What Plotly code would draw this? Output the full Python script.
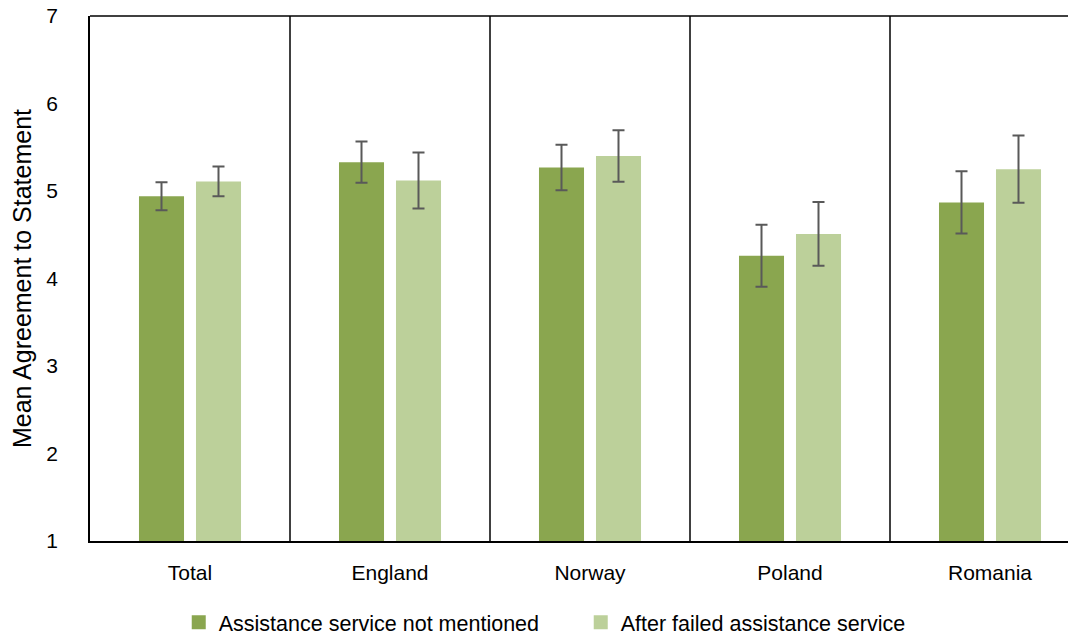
import plotly.graph_objects as go

categories = ["Total", "England", "Norway", "Poland", "Romania"]
not_mentioned = [4.94, 5.33, 5.27, 4.26, 4.87]
not_mentioned_err = [0.16, 0.235, 0.26, 0.355, 0.355]
after_failed = [5.11, 5.12, 5.40, 4.51, 5.25]
after_failed_err = [0.17, 0.32, 0.295, 0.365, 0.385]
series_names = ["Assistance service not mentioned", "After failed assistance service"]
colors = ["#8aa64f", "#bcd09a"]
y_ticks = [1, 2, 3, 4, 5, 6, 7]

FONT = "Liberation Sans"
err_style = dict(type="data", visible=True, color="#595959", thickness=2, width=6)

fig = go.Figure()
for vals, errs, name, col in [(not_mentioned, not_mentioned_err, series_names[0], colors[0]),
                              (after_failed, after_failed_err, series_names[1], colors[1])]:
    fig.add_trace(go.Bar(
        x=categories, y=vals, name=name, showlegend=False,
        marker=dict(color=col, line=dict(width=0)),
        error_y=dict(array=errs, **err_style),
    ))
# legend entries with square swatches
for name, col in zip(series_names, colors):
    fig.add_trace(go.Scatter(
        x=[None], y=[None], mode="markers", name=name,
        marker=dict(symbol="square", size=14, color=col),
    ))

n = len(categories)
shapes = []
for i in range(n - 1):
    shapes.append(dict(type="line", xref="x", yref="paper", x0=i + 0.5, x1=i + 0.5,
                       y0=0, y1=1, line=dict(color="black", width=1.5)))
shapes.append(dict(type="line", xref="paper", yref="paper", x0=0, x1=1, y0=1, y1=1,
                   line=dict(color="black", width=1.5)))

fig.update_layout(
    width=1076, height=650,
    margin=dict(l=82, r=8, t=8, b=117),
    paper_bgcolor="white", plot_bgcolor="white",
    barmode="group", bargap=0.43, bargroupgap=0.21,
    font=dict(family=FONT, size=21, color="#000000"),
    shapes=shapes,
    showlegend=True,
    legend=dict(orientation="h", x=0.09, xanchor="left", y=-0.155, yanchor="middle",
                font=dict(family=FONT, size=21.5), itemsizing="trace",
                traceorder="normal", itemwidth=30, entrywidth=357),
    xaxis=dict(range=[-0.5, n - 0.57], showgrid=False, showline=True, linecolor="black",
               linewidth=1.5, ticks="", zeroline=False, automargin=False,
               ticklabelstandoff=12, fixedrange=True),
    yaxis=dict(range=[1, 7], tickvals=y_ticks, showgrid=False, showline=True,
               linecolor="black", linewidth=1.5, ticks="", zeroline=False,
               automargin=False, ticklabelstandoff=26, ticklabeloverflow="allow",
               title=dict(text="Mean Agreement to Statement", font=dict(size=25), standoff=12)),
)

fig.write_html("out.html")
